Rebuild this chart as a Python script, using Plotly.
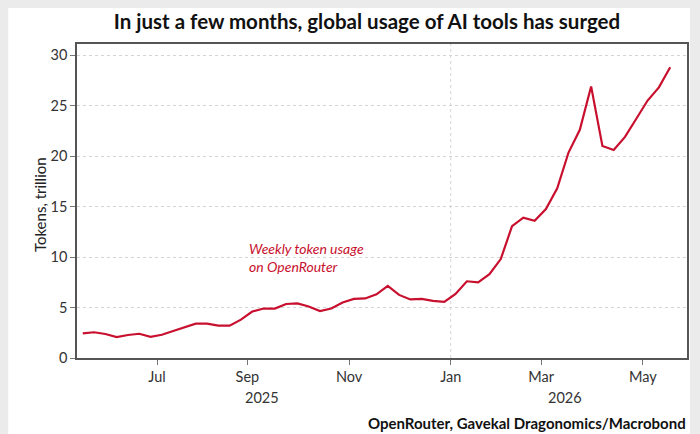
import plotly.graph_objects as go
import pandas as pd

# Weekly token usage on OpenRouter, trillion tokens
start_date = "2025-05-22"
tokens = [2.44, 2.55, 2.38, 2.08, 2.28, 2.40, 2.10, 2.30, 2.67, 3.00,
          3.40, 3.40, 3.20, 3.20, 3.80, 4.60, 4.90, 4.90, 5.35, 5.40,
          5.10, 4.65, 4.90, 5.50, 5.85, 5.90, 6.30, 7.15, 6.25, 5.80,
          5.85, 5.65, 5.55, 6.35, 7.60, 7.50, 8.30, 9.80, 13.05, 13.90,
          13.60, 14.75, 16.80, 20.35, 22.60, 26.90, 21.00, 20.60, 21.90, 23.70,
          25.50, 26.80, 28.80]
dates = pd.date_range(start=start_date, periods=len(tokens), freq="7D")

tick_dates = ["2025-07-07", "2025-09-01", "2025-11-03", "2026-01-05", "2026-03-02", "2026-05-04"]
tick_labels = ["Jul", "Sep", "Nov", "Jan", "Mar", "May"]
year_labels = ["2025", "2026"]
year_positions = ["2025-09-10", "2026-03-17"]
y_ticks = [0, 5, 10, 15, 20, 25, 30]

RED = "#c8102e"
FONT = "Lato"

fig = go.Figure()
fig.add_trace(go.Scatter(x=dates, y=tokens, mode="lines",
                         line=dict(color=RED, width=2.2), showlegend=False,
                         hoverinfo="skip"))

L, R, T, B = 77, 11, 44, 76
W, H = 700, 434
pw, ph = W - L - R, H - T - B

def px_x(p):
    return (p - L) / pw

def px_y(p):
    return (H - B - p) / ph

shapes = [
    dict(type="rect", xref="paper", yref="paper",
         x0=px_x(8), x1=px_x(692), y0=px_y(8), y1=px_y(440),
         fillcolor="white", line=dict(width=0), layer="below"),
    dict(type="line", xref="x", yref="paper", x0="2026-01-05", x1="2026-01-05",
         y0=0, y1=1, line=dict(color="#d4d4d4", width=1, dash="dot"), layer="below"),
]

annotations = [
    dict(text="<i>Weekly token usage<br>on OpenRouter</i>", x="2025-09-01", y=10.0,
         xref="x", yref="y", xanchor="left", yanchor="middle", align="left",
         showarrow=False, font=dict(family=FONT, size=14, color=RED)),
    dict(text="<b>OpenRouter, Gavekal Dragonomics/Macrobond</b>", x=px_x(690), y=px_y(423),
         xref="paper", yref="paper", xanchor="right", yanchor="middle",
         showarrow=False, font=dict(family=FONT, size=15, color="#111")),
    dict(text="Tokens, trillion", x=px_x(40), y=px_y(205), xref="paper", yref="paper",
         textangle=-90, xanchor="center", yanchor="middle", showarrow=False,
         font=dict(family=FONT, size=15, color="#222")),
]
for lbl, pos in zip(year_labels, year_positions):
    annotations.append(dict(text=lbl, x=pos, y=px_y(397), xref="x", yref="paper",
                            xanchor="center", yanchor="middle", showarrow=False,
                            font=dict(family=FONT, size=14.5, color="#333")))

fig.update_layout(
    width=W, height=H,
    margin=dict(l=L, r=R, t=T, b=B),
    paper_bgcolor="#ebebeb", plot_bgcolor="white",
    title=dict(text="<b>In just a few months, global usage of AI tools has surged</b>",
               x=367 / W, y=1 - 22 / H, xanchor="center", yanchor="middle",
               font=dict(family=FONT, size=20.5, color="#111")),
    shapes=shapes, annotations=annotations,
    xaxis=dict(type="date", range=["2025-05-18 10:00", "2026-05-31 10:00"],
               tickvals=tick_dates, ticktext=tick_labels,
               ticks="outside", ticklen=5, tickcolor="#777",
               showgrid=False, zeroline=False,
               showline=True, linecolor="#555", linewidth=1.5, mirror=True,
               tickfont=dict(family=FONT, size=14.5, color="#333")),
    yaxis=dict(range=[0, 31.1], tickvals=y_ticks,
               ticks="outside", ticklen=5, tickcolor="#777",
               showgrid=True, gridcolor="#d4d4d4", griddash="dot", gridwidth=1,
               zeroline=False,
               showline=True, linecolor="#555", linewidth=1.5, mirror=True,
               tickfont=dict(family=FONT, size=14.5, color="#333")),
)

fig.write_html("out.html")
